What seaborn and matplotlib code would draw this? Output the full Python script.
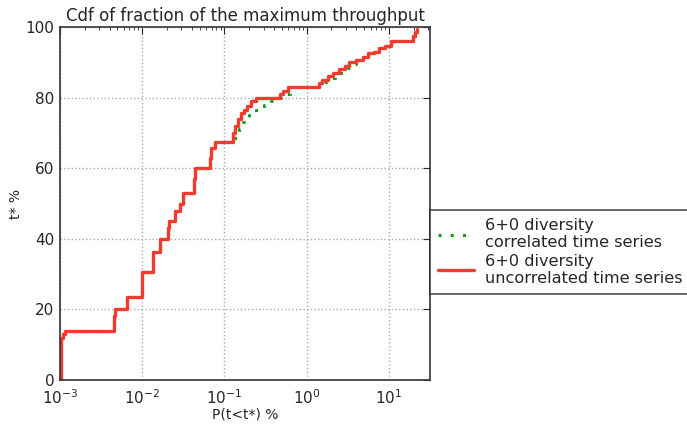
import matplotlib
matplotlib.use("Agg")
import matplotlib.pyplot as plt
import seaborn as sns
import pandas as pd

# Data: step CDF points (x = P(t<t*) %, y = t* %)
red_x = [0.001, 0.00102, 0.00108, 0.00115, 0.0045, 0.0047, 0.0066, 0.0098, 0.0100,
         0.0134, 0.0136, 0.0164, 0.0205, 0.0211, 0.025, 0.029, 0.0316, 0.0427, 0.044,
         0.0664, 0.068, 0.076, 0.128, 0.135, 0.145, 0.16, 0.175, 0.19, 0.21, 0.24,
         0.47, 0.52, 0.6, 1.4, 1.55, 1.8, 2.1, 2.5, 2.9, 3.3, 4.0, 4.8, 5.5, 6.5,
         7.5, 9.0, 10.5, 19.5, 20.5, 22.0]
red_y = [0, 12, 13, 14, 18, 20, 23.4, 27, 30.5,
         34, 36.2, 40, 43, 45, 48, 50, 53, 57, 60,
         63, 65.6, 67.3, 70, 72, 74, 75.5, 76.5, 77.5, 79, 80,
         81, 82, 83, 84, 85, 86, 87, 88, 89, 90, 90.7, 91.5, 92.5, 93,
         94, 94.5, 96, 97.5, 98.5, 99.5]

green_x = [0.001, 0.00102, 0.00108, 0.00115, 0.0045, 0.0047, 0.0066, 0.0098, 0.0100,
           0.0134, 0.0136, 0.0164, 0.0205, 0.0211, 0.025, 0.029, 0.0316, 0.0427, 0.044,
           0.0664, 0.068, 0.076, 0.128, 0.135, 0.15, 0.17, 0.2, 0.24, 0.3, 0.37,
           0.47, 0.55, 0.62, 0.7, 1.4, 1.6, 1.9, 2.2, 2.6, 3.0, 3.5, 4.0, 4.8, 5.5,
           6.5, 7.5, 9.0, 10.5, 19.5, 20.5, 22.0]
green_y = [0, 12, 13, 14, 18, 20, 23.4, 27, 30.5,
           34, 36.2, 40, 43, 45, 48, 50, 53, 57, 60,
           63, 65.6, 67.3, 68, 69.5, 71, 73, 75, 76.5, 78, 79,
           80, 81, 82, 83, 83.5, 84.5, 85.5, 86.5, 87.5, 88.5, 89.5, 90.5, 91.5, 92.5,
           93, 94, 94.5, 96, 97.5, 98.5, 99.5]

labels = ["6+0 diversity\ncorrelated time series",
          "6+0 diversity\nuncorrelated time series"]

sns.set_style("white")
plt.rcParams['font.family'] = ['DejaVu Sans']

fig = plt.figure(figsize=(6.87, 4.25), dpi=100)
ax = fig.add_axes([60/687, 1-380/425, 370/687, 353/425])

dg = pd.DataFrame({"x": green_x, "y": green_y})
dr = pd.DataFrame({"x": red_x, "y": red_y})
sns.lineplot(data=dg, x="x", y="y", ax=ax, sort=False, estimator=None,
             drawstyle="steps-post", color="#1a9a1a", linestyle=(0, (1, 3)),
             linewidth=2.2, label=labels[0])
sns.lineplot(data=dr, x="x", y="y", ax=ax, sort=False, estimator=None,
             drawstyle="steps-post", color="#f03c2e", linewidth=2.4,
             label=labels[1])

ax.set_xscale("log")
ax.set_xlim(1e-3, 31.6)
ax.set_ylim(0, 100)
ax.set_yticks([0, 20, 40, 60, 80, 100])
ax.grid(True, which="major", linestyle=":", color="#aaaaaa", linewidth=1)
ax.tick_params(which="both", direction="in", top=True, right=True, labelsize=11)
ax.tick_params(axis="x", which="major", length=5, pad=6)
ax.tick_params(axis="y", which="major", length=5, pad=4)
ax.tick_params(which="minor", length=2.5)
for s in ax.spines.values():
    s.set_color("#333333")
    s.set_linewidth(1.2)

ax.set_title("Cdf of fraction of the maximum throughput", fontsize=12, pad=4)
ax.set_xlabel("P(t<t*) %", fontsize=10, labelpad=0)
ax.set_ylabel("t* %", fontsize=10, labelpad=2)

ax.get_legend().remove()
h, l = ax.get_legend_handles_labels()
leg = fig.legend(h, l, loc="upper left", bbox_to_anchor=(430/687, 1-210/425),
                 fontsize=11.6, frameon=True, fancybox=False, borderaxespad=0,
                 handlelength=2.2, handletextpad=0.7, labelspacing=0.2,
                 borderpad=0.5)
leg.get_frame().set_edgecolor("#222222")
leg.get_frame().set_linewidth(1.2)

fig.savefig("out.png", dpi=100)
